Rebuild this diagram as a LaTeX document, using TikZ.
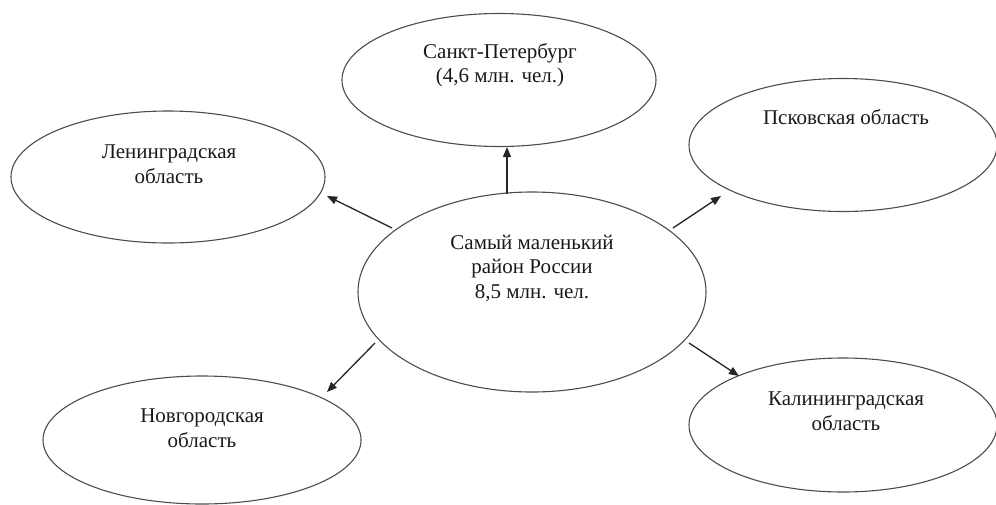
\documentclass[tikz,border=0pt]{standalone}
\usepackage{fontspec}
\setmainfont{Liberation Serif}
\usetikzlibrary{shapes.geometric,arrows.meta}
\begin{document}
\begin{tikzpicture}[x=1pt,y=-1pt,
  region/.style={ellipse,draw=black!70,line width=1.1pt,inner sep=0pt},
  lbl/.style={align=center,font=\fontsize{21}{24.5}\selectfont,text=black!90},
  conn/.style={line width=1.3pt,draw=black!85,-{Triangle[length=10pt,width=8pt]}}]
\useasboundingbox (0,0) rectangle (996,504);
% ellipses
\node[region,minimum width=314pt,minimum height=133pt] (spb) at (499,80) {};
\node[region,minimum width=314pt,minimum height=132pt] (len) at (168,177) {};
\node[region,minimum width=308pt,minimum height=133pt] (psk) at (843,145) {};
\node[region,minimum width=348pt,minimum height=200pt] (ctr) at (532,292) {};
\node[region,minimum width=318pt,minimum height=128pt] (nov) at (202,440) {};
\node[region,minimum width=308pt,minimum height=134pt] (kal) at (843,425) {};
% texts
\node[lbl] (tspb) at (500,65) {Санкт-Петербург\\(4,6 млн. чел.)};
\node[lbl] (tlen) at (169,164) {Ленинградская\\область};
\node[lbl] (tpsk) at (846,117) {Псковская область};
\node[lbl] (tctr) at (532,268) {Самый маленький\\район России\\8,5 млн. чел.};
\node[lbl] (tnov) at (202,428) {Новгородская\\область};
\node[lbl] (tkal) at (846,411) {Калининградская\\область};
% connector ends
\coordinate (s1) at (507,194); \coordinate (e1) at (507,147);
\coordinate (s2) at (392,228); \coordinate (e2) at (327,196);
\coordinate (s3) at (673,228); \coordinate (e3) at (721,196);
\coordinate (s4) at (375,343); \coordinate (e4) at (327,392);
\coordinate (s5) at (689,343); \coordinate (e5) at (739,376);
\draw[conn] (s1) -- (e1);
\draw[conn] (s2) -- (e2);
\draw[conn] (s3) -- (e3);
\draw[conn] (s4) -- (e4);
\draw[conn] (s5) -- (e5);
\end{tikzpicture}
\end{document}
